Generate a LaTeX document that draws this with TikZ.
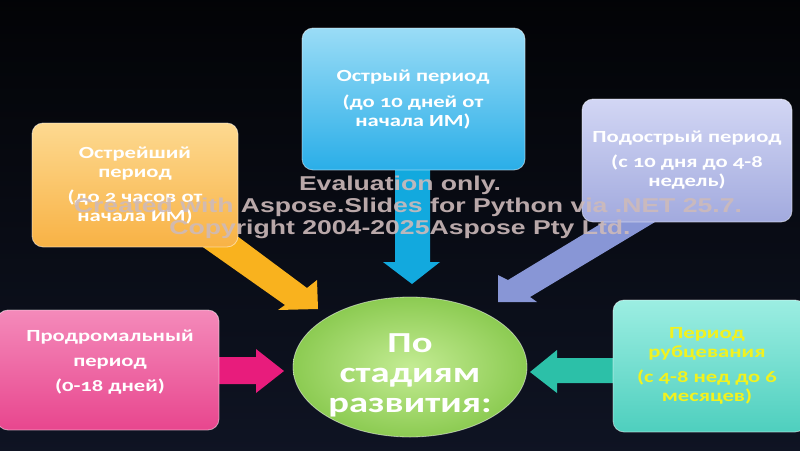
\documentclass[tikz,border=0pt]{standalone}
\usepackage{fontspec}
\setmainfont{Carlito}[FakeStretch=1.33, Numbers=OldStyle]
\newfontfamily\wmfont{Liberation Sans}[FakeStretch=1.33]
\usetikzlibrary{shapes.geometric}
\definecolor{bgbot}{HTML}{4D6594}
\definecolor{bgmid}{HTML}{1B2440}
\definecolor{bluetop}{HTML}{9ADCF6}
\definecolor{bluebot}{HTML}{2AAEE8}
\definecolor{orgtop}{HTML}{FDD990}
\definecolor{orgbot}{HTML}{F8B245}
\definecolor{lavtop}{HTML}{D2D6F4}
\definecolor{lavbot}{HTML}{A2AADE}
\definecolor{pnktop}{HTML}{F48ABA}
\definecolor{pnkbot}{HTML}{E8468E}
\definecolor{teatop}{HTML}{9CEEE2}
\definecolor{teabot}{HTML}{4ECFBE}
\definecolor{grnin}{HTML}{C4EC94}
\definecolor{grnout}{HTML}{8CCB52}
\definecolor{arrorg}{HTML}{F9B21E}
\definecolor{arrblue}{HTML}{12A9DE}
\definecolor{arrlav}{HTML}{8896D6}
\definecolor{arrpnk}{HTML}{E81C7C}
\definecolor{arrtea}{HTML}{2CC0A8}
\definecolor{txtyel}{HTML}{F2F21E}
\definecolor{wmcol}{HTML}{CDBABA}
\pgfdeclareverticalshading{bgshade}{100bp}{color(0bp)=(bgbot); color(150bp)=(bgmid); color(260bp)=(black); color(450bp)=(black)}
\begin{document}
\begin{tikzpicture}[x=1pt,y=-1pt,
  box/.style={rectangle, rounded corners=11pt, draw=white!60, draw opacity=0.5, line width=0.8pt, inner sep=0pt},
  ttl/.style={text=white, align=center, font=\bfseries\fontsize{17}{19}\selectfont, inner sep=0pt},
  ctr/.style={text=white, align=center, font=\bfseries\fontsize{29}{30}\selectfont, inner sep=0pt},
  wm/.style={text=wmcol, text opacity=0.9, font=\wmfont\bfseries\fontsize{20}{22}\selectfont, inner sep=0pt}]
\useasboundingbox (0,0) rectangle (800,450);
\shade[shading=bgshade] (0,0) rectangle (800,450);

% block arrows
\fill[arrorg] (225,227) -- (307,288) -- (317,280) -- (318,309) -- (278,310) -- (285,305) -- (190,238) -- cycle;
\fill[arrlav] (630,206) -- (508,280) -- (498,275) -- (498,302) -- (537,302) -- (530,297) -- (665,216) -- cycle;
\fill[arrblue] (395,160) -- (430,160) -- (430,262) -- (440,262) -- (412,284) -- (383,262) -- (395,262) -- cycle;
\fill[arrpnk] (210,357) -- (256,357) -- (256,349) -- (284,371) -- (256,393) -- (256,384) -- (210,384) -- cycle;
\fill[arrtea] (620,358) -- (557,358) -- (557,350) -- (530,372) -- (557,393) -- (557,383) -- (620,383) -- cycle;

% boxes
\node[box, top color=bluetop, bottom color=bluebot, minimum width=223pt, minimum height=142pt] (acute) at (413.5,99) {};
\node[box, top color=orgtop, bottom color=orgbot, minimum width=206pt, minimum height=124pt] (hyper) at (135,185) {};
\node[box, top color=lavtop, bottom color=lavbot, minimum width=210pt, minimum height=123pt] (subac) at (687,160.5) {};
\node[box, top color=pnktop, bottom color=pnkbot, minimum width=222pt, minimum height=120pt] (prodr) at (108,370) {};
\node[box, top color=teatop, bottom color=teabot, minimum width=193pt, minimum height=132pt] (scar) at (709.5,366) {};
\node[ellipse, draw=white!70, draw opacity=0.5, line width=0.8pt, inner color=grnin, outer color=grnout, minimum width=234pt, minimum height=140pt, inner sep=0pt] (hub) at (410,367) {};

% texts
\node[ttl] (t1) at (413,77) {Острый период};
\node[ttl] (s1) at (413,111.5) {(до 10 дней от\\начала ИМ)};
\node[ttl] (t2) at (135,164) {Острейший\\период};
\node[ttl] (s2) at (135,206.5) {(до 2 часов от\\начала ИМ)};
\node[ttl] (t3) at (687,138) {Подострый период};
\node[ttl] (s3) at (687,172.5) {(с 10 дня до 4-8\\недель)};
\node[ttl, font=\bfseries\fontsize{17}{25}\selectfont] (t4) at (110,362) {Продромальный\\период\\(0-18 дней)};
\node[ttl, text=txtyel] (t5) at (707,344) {Период\\рубцевания};
\node[ttl, text=txtyel] (s5) at (707,387) {(с 4-8 нед до 6\\месяцев)};
\node[ctr] (c) at (410,375) {По\\стадиям\\развития:};

% watermark
\node[wm] (w1) at (400,185) {Evaluation only.};
\node[wm] (w2) at (408,207) {Created with Aspose.Slides for Python via .NET 25.7.};
\node[wm] (w3) at (400,229) {Copyright 2004-2025Aspose Pty Ltd.};
\end{tikzpicture}
\end{document}
